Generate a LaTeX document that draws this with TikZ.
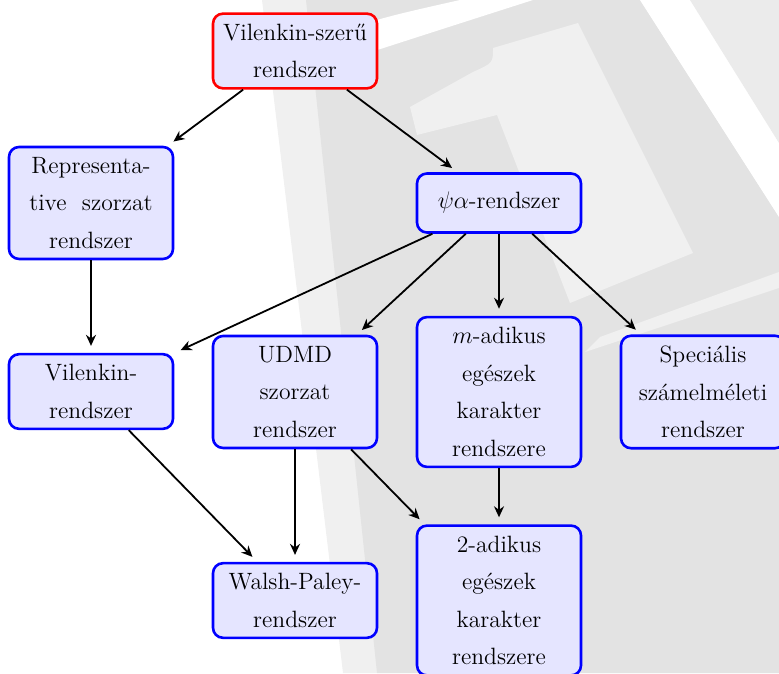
\documentclass[tikz,border=0pt]{standalone}
\usepackage{amsmath,amssymb}
\usepackage{tikz}
\usetikzlibrary{arrows.meta}

\definecolor{vjsotet}{RGB}{227,227,227}
\definecolor{vjvilagos}{RGB}{240,240,240}
\definecolor{vjsarok}{RGB}{235,235,235}

\tikzset{
  doboz/.style={draw=blue, fill=blue!10, line width=1.3pt, rounded corners=5pt,
    minimum width=82pt, minimum height=29.5pt, inner ysep=5.1pt, align=center,
    font=\fontsize{11.8pt}{18.8pt}\selectfont},
  fodoboz/.style={doboz, draw=red},
  nyil/.style={-{Stealth[length=5.5pt,width=5pt]}, line width=0.9pt, shorten >=3.5pt}
}

\begin{document}
\begin{tikzpicture}[x=0.5pt,y=0.5pt]
  \useasboundingbox (0,0) rectangle (779,673);
  % vizjel a hatterben
  \fill[vjvilagos] (262,673) -- (640,673) -- (779,456) -- (779,0) -- (343,0) -- cycle;
  \fill[vjsotet] (306,673) -- (640,673) -- (779,456) -- (779,0) -- (377,0) -- cycle;
  \fill[white] (300,628) .. controls (380,655) .. (460,673) -- (533,673)
    .. controls (430,640) .. (300,598) -- cycle;
  \fill[white] (640,673) -- (690,673) -- (779,530) -- (779,456) -- cycle;
  \fill[vjsarok] (690,673) -- (779,673) -- (779,530) -- cycle;
  \fill[vjvilagos] (410,566) -- (473,601) .. controls (493,610) .. (493,625) -- (578,650)
    -- (693,420) -- (570,370) -- (497,558) -- (417,538) -- cycle;
  \fill[vjvilagos] (585,321) -- (779,385) -- (779,401) -- (600,336) -- cycle;

  \node[fodoboz] (vsz) at (295,622) {Vilenkin-szerű\\rendszer};
  \node[doboz] (rep) at (91,470) {Representa-\\tive\ \ szorzat\\rendszer};
  \node[doboz] (psa) at (499,470) {$\psi\alpha$-rendszer};
  \node[doboz] (vil) at (91,281.5) {Vilenkin-\\rendszer};
  \node[doboz] (udmd) at (295,281) {UDMD\\szorzat\\rendszer};
  \node[doboz] (madik) at (499,281) {$m$-adikus\\egészek\\karakter\\rendszere};
  \node[doboz] (spec) at (703,281) {Speciális\\számelméleti\\rendszer};
  \node[doboz] (wp) at (295,72.5) {Walsh-Paley-\\rendszer};
  \node[doboz] (kadik) at (499,72.5) {2-adikus\\egészek\\karakter\\rendszere};

  \draw[nyil] (vsz) -- (rep);
  \draw[nyil] (vsz) -- (psa);
  \draw[nyil] (rep) -- (vil);
  \draw[nyil] (psa) -- (vil);
  \draw[nyil] (psa) -- (udmd);
  \draw[nyil] (psa) -- (madik);
  \draw[nyil] (psa) -- (spec);
  \draw[nyil] (vil) -- (wp);
  \draw[nyil] (udmd) -- (wp);
  \draw[nyil] (udmd) -- (kadik);
  \draw[nyil] (madik) -- (kadik);
\end{tikzpicture}
\end{document}
